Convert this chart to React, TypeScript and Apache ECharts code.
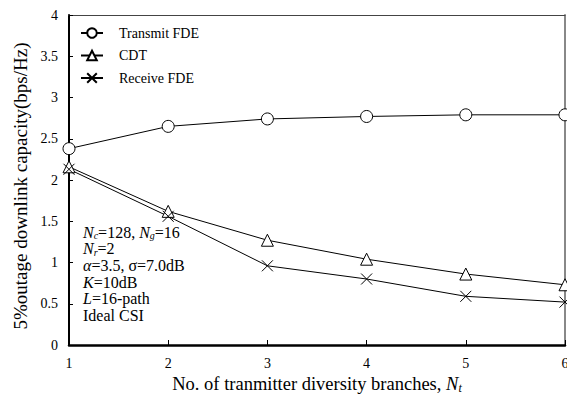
import React, { useEffect, useRef } from "react";
import * as echarts from "echarts";

const branches = [1, 2, 3, 4, 5, 6];
const transmitFDE = [2.38, 2.65, 2.74, 2.77, 2.79, 2.79];
const cdt = [2.16, 1.62, 1.27, 1.04, 0.86, 0.73];
const receiveFDE = [2.13, 1.56, 0.96, 0.8, 0.59, 0.52];
const seriesNames = ["Transmit FDE", "CDT", "Receive FDE"];

const SERIF = "Liberation Serif";
const CROSS = "path://M0 0L10 10M10 0L0 10";

export default function App() {
  const ref = useRef<HTMLDivElement>(null);
  useEffect(() => {
    if (!ref.current) return;
    const chart = echarts.init(ref.current, null, { renderer: "svg" });
    const mk = (name: string, vals: number[], symbol: string, size: number) => ({
      name,
      type: "line",
      data: branches.map((b, i) => [b, vals[i]]),
      symbol,
      symbolSize: size,
      showAllSymbol: true,
      clip: false,
      lineStyle: { color: "#000", width: 1 },
      itemStyle: { color: "#fff", borderColor: "#000", borderWidth: 1 },
      emphasis: { disabled: true },
    });
    const sub = { fontFamily: SERIF, fontSize: 10, fontStyle: "italic", verticalAlign: "bottom", lineHeight: 11, color: "#000" };
    const it = { fontFamily: SERIF, fontSize: 16, fontStyle: "italic", lineHeight: 16.6, color: "#000" };
    const rg = { fontFamily: SERIF, fontSize: 16, lineHeight: 16.6, color: "#000" };
    const tick = { fontFamily: SERIF, fontSize: 14, color: "#000" };
    chart.setOption({
      animation: false,
      backgroundColor: "#fff",
      textStyle: { fontFamily: SERIF },
      grid: { left: 69, right: 2, top: 15, bottom: 49, containLabel: false, outerBoundsMode: "none" },
      legend: {
        left: 75,
        top: 20,
        orient: "vertical",
        itemWidth: 22,
        itemHeight: 12,
        itemGap: 6.5,
        data: seriesNames,
        formatter: "{a|{name}}",
        textStyle: {
          fontFamily: SERIF,
          fontSize: 14,
          lineHeight: 16,
          color: "#000",
          rich: { a: { fontFamily: SERIF, fontSize: 14, lineHeight: 16, color: "#000", padding: [0, 0, 0, 11] } },
        },
      },
      xAxis: [
        {
          type: "value",
          min: 1,
          max: 6,
          interval: 1,
          name: "No. of tranmitter diversity branches, {i|N}{s|t}",
          nameLocation: "middle",
          nameGap: 29,
          nameTextStyle: {
            fontFamily: SERIF,
            fontSize: 18.5,
            color: "#000",
            rich: {
              i: { fontFamily: SERIF, fontSize: 18.5, fontStyle: "italic", color: "#000" },
              s: { fontFamily: SERIF, fontSize: 12, fontStyle: "italic", color: "#000", verticalAlign: "bottom", lineHeight: 12 },
            },
          },
          axisLine: { show: true, onZero: false, lineStyle: { color: "#000", width: 2.5 } },
          axisTick: { show: true, inside: true, length: 5, lineStyle: { color: "#000" } },
          axisLabel: { fontFamily: SERIF, fontSize: 14, color: "#000", margin: 11, formatter: "{a|{value}}", rich: { a: tick } },
          splitLine: { show: false },
        },
        {
          type: "value",
          position: "top",
          min: 1,
          max: 6,
          interval: 1,
          axisLine: { show: true, onZero: false, lineStyle: { color: "#444", width: 1 } },
          axisTick: { show: false },
          axisLabel: { show: false },
          splitLine: { show: false },
        },
      ],
      yAxis: [
        {
          type: "value",
          min: 0,
          max: 4,
          interval: 0.5,
          axisLine: { show: true, onZero: false, lineStyle: { color: "#000", width: 2 } },
          axisTick: { show: true, inside: true, length: 4, lineStyle: { color: "#000" } },
          axisLabel: { fontFamily: SERIF, fontSize: 14, color: "#000", margin: 11, formatter: "{a|{value}}", rich: { a: tick } },
          splitLine: { show: false },
        },
        {
          type: "value",
          position: "right",
          min: 0,
          max: 4,
          interval: 0.5,
          axisLine: { show: true, onZero: false, lineStyle: { color: "#888", width: 2 } },
          axisTick: { show: false },
          axisLabel: { show: false },
          splitLine: { show: false },
        },
      ],
      series: [
        mk(seriesNames[0], transmitFDE, "circle", 12),
        mk(seriesNames[1], cdt, "triangle", 12),
        mk(seriesNames[2], receiveFDE, CROSS, 11),
      ],
      graphic: [
        {
          type: "text",
          x: 20,
          y: 186,
          rotation: Math.PI / 2,
          z: 10,
          style: {
            text: "5%outage downlink capacity(bps/Hz)",
            fontFamily: SERIF,
            fontSize: 19,
            fill: "#000",
            align: "center",
            verticalAlign: "middle",
          },
        },
        {
          type: "text",
          left: 83,
          top: 224,
          z: 10,
          style: {
            text: [
              "{i|N}{s|c}{r|=128, }{i|N}{s|g}{r|=16}",
              "{i|N}{s|r}{r|=2}",
              "{i|α}{r|=3.5, σ=7.0dB}",
              "{i|K}{r|=10dB}",
              "{i|L}{r|=16-path}",
              "{r|Ideal CSI}",
            ].join("\n"),
            rich: { i: it, s: sub, r: rg },
            fontFamily: SERIF,
            fontSize: 16,
            lineHeight: 16.6,
            fill: "#000",
          },
        },
      ],
    });
    return () => chart.dispose();
  }, []);
  return (
    <div
      ref={ref}
      style={{ position: "fixed", left: 0, top: 0, width: 567, height: 394, background: "#fff" }}
    />
  );
}
